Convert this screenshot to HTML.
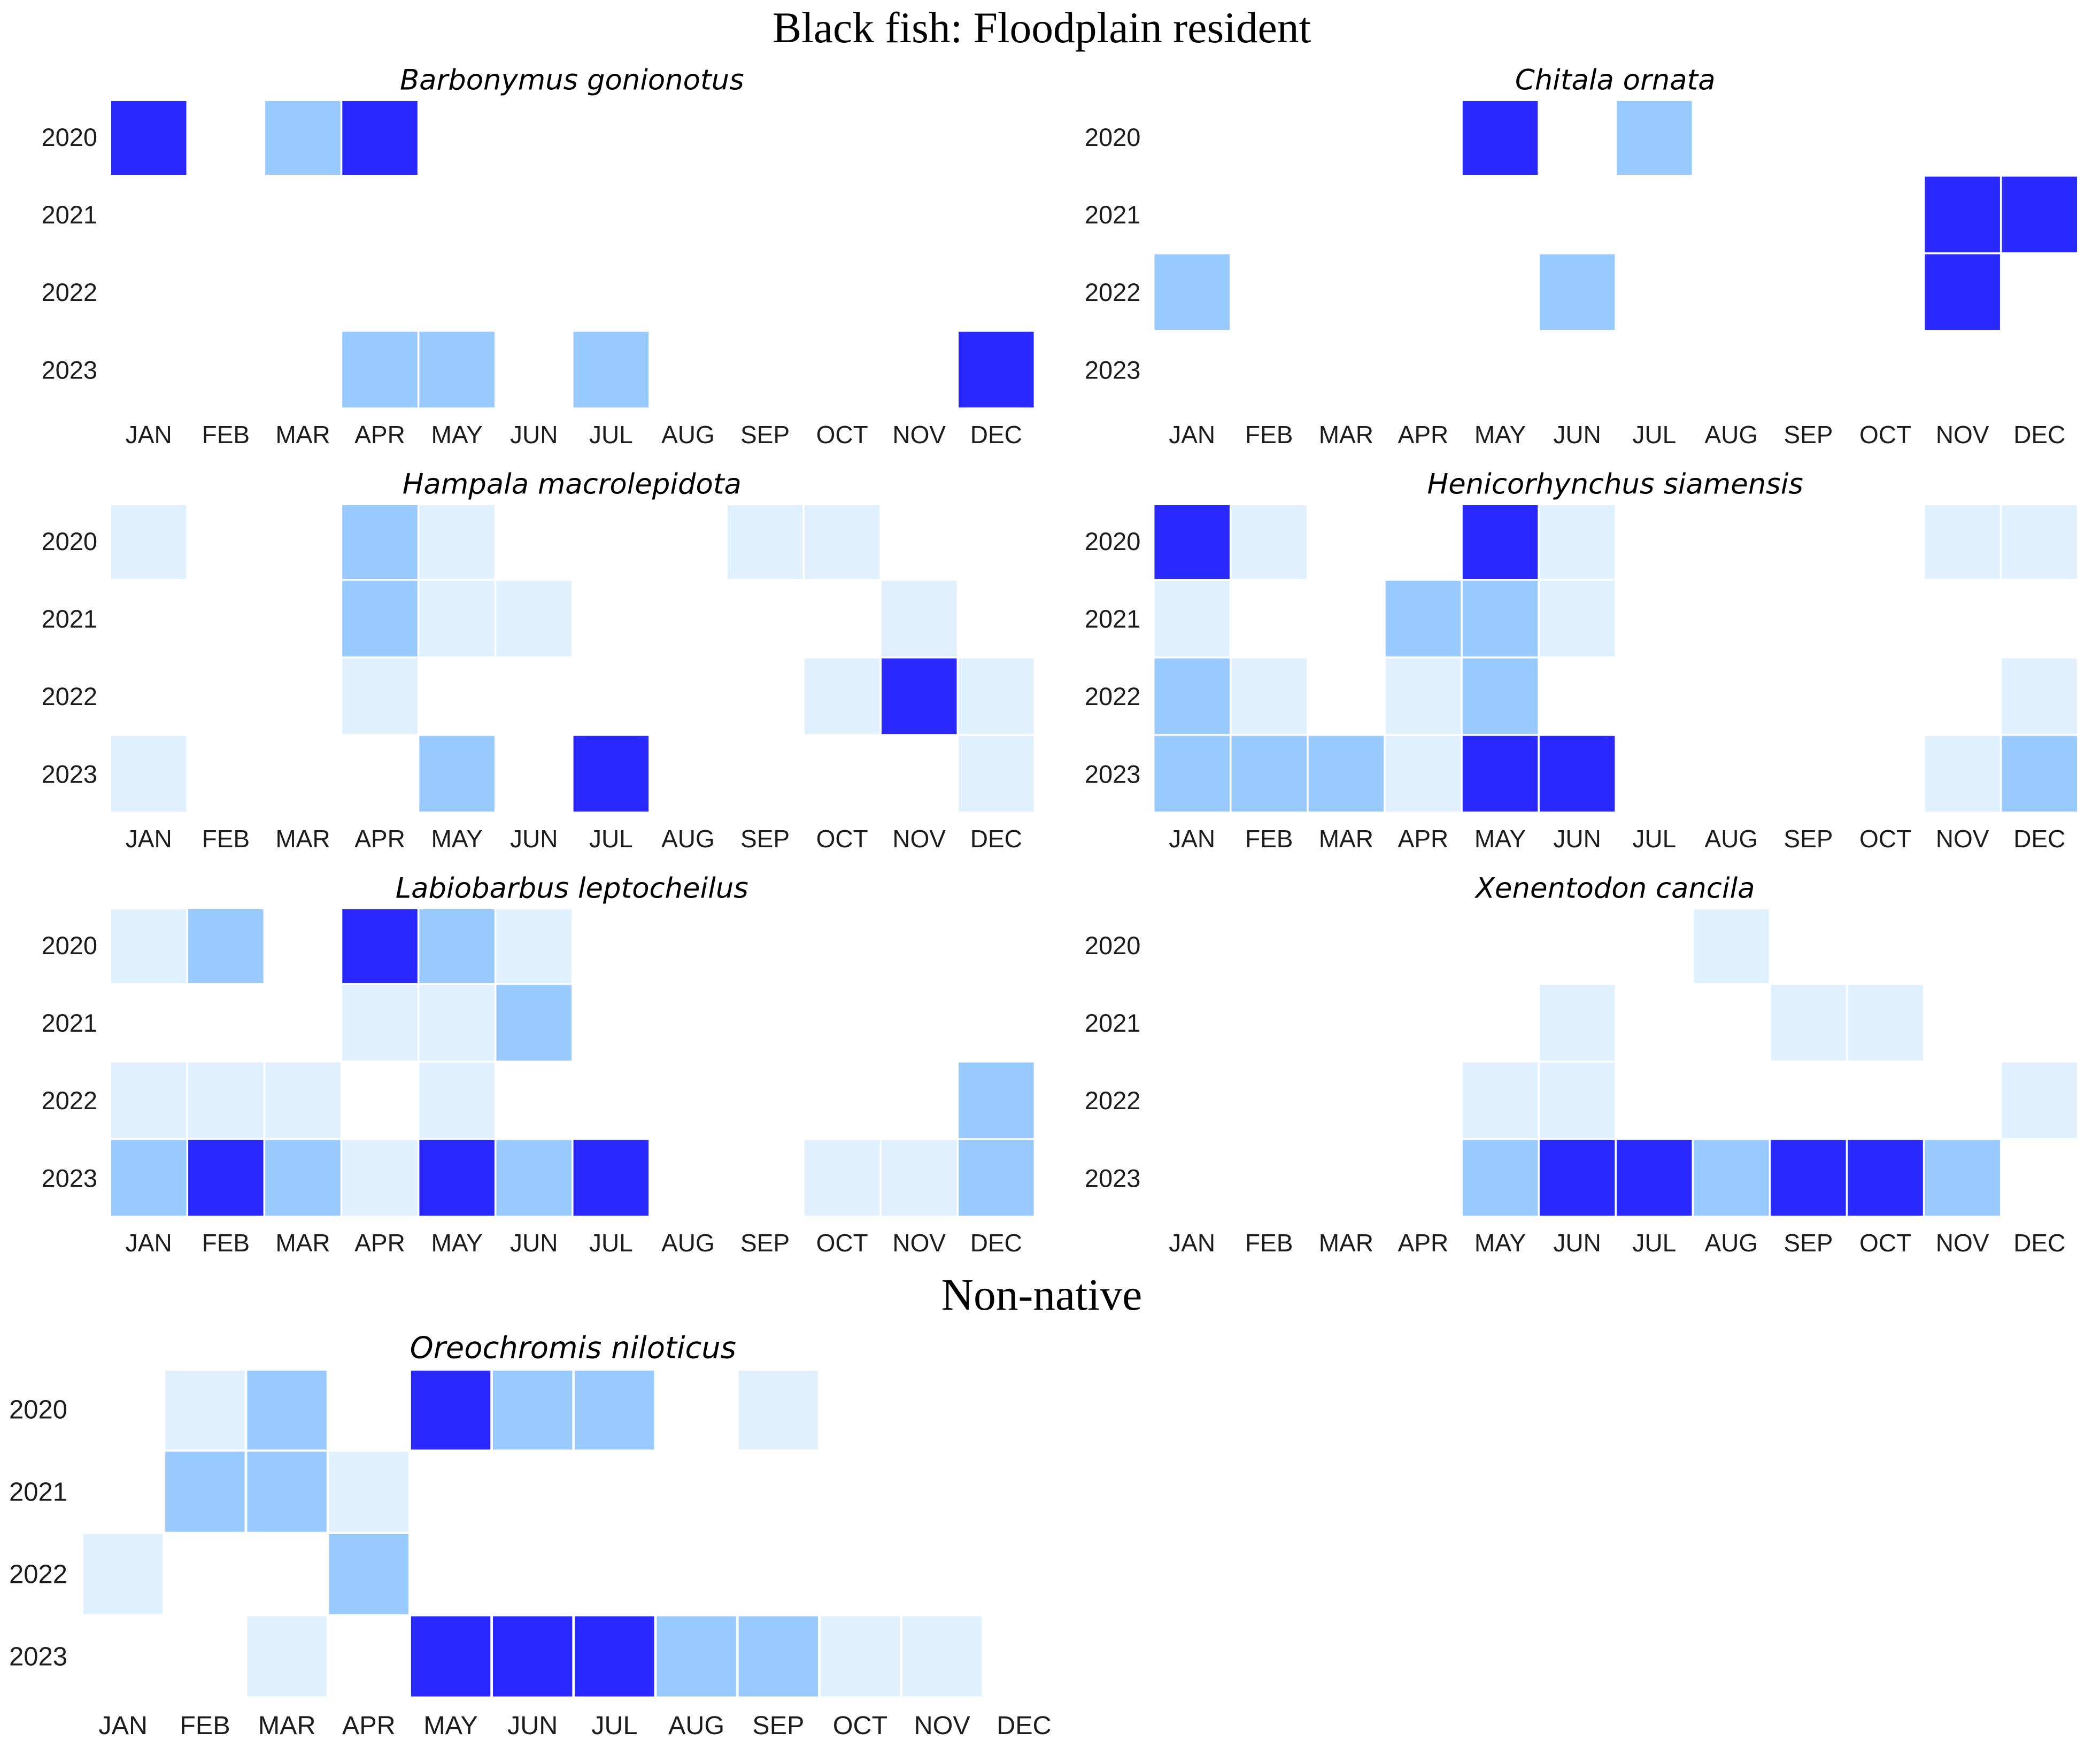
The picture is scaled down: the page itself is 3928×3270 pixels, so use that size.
<!DOCTYPE html>
<html lang="en">
<head>
<meta charset="utf-8">
<title>Black fish: Floodplain resident</title>
<style>
  html, body { margin: 0; padding: 0; background: #ffffff; }
  svg { display: block; }
  .main-title { font-family: "Liberation Serif", serif; fill: #000; text-anchor: middle; }
  .species-title { font-family: "DejaVu Sans", sans-serif; font-style: italic; fill: #000; text-anchor: middle; }
  .tick-label { font-family: "Liberation Sans", sans-serif; fill: #1c1c1c; }
</style>
</head>
<body>
<svg id="figure" xmlns="http://www.w3.org/2000/svg" width="3928" height="3270" viewBox="0 0 3928 3270">
  <rect x="0" y="0" width="3928" height="3270" fill="#ffffff"/>
  <text class="main-title" x="1948.5" y="79" font-size="81.5">Black fish: Floodplain resident</text>
  <text class="main-title" x="1948.5" y="2450" font-size="83.5">Non-native</text>
</svg>
<script>
// Shared categories
const monthLabels = ['JAN','FEB','MAR','APR','MAY','JUN','JUL','AUG','SEP','OCT','NOV','DEC'];
const yearLabels = ['2020','2021','2022','2023'];

// Species names
const speciesNames = [
  'Barbonymus gonionotus',
  'Chitala ornata',
  'Hampala macrolepidota',
  'Henicorhynchus siamensis',
  'Labiobarbus leptocheilus',
  'Xenentodon cancila',
  'Oreochromis niloticus'
];

// Abundance level per year (rows) and month (columns)
const barbonymusValues = [
  [3,0,2,3,0,0,0,0,0,0,0,0],
  [0,0,0,0,0,0,0,0,0,0,0,0],
  [0,0,0,0,0,0,0,0,0,0,0,0],
  [0,0,0,2,2,0,2,0,0,0,0,3]
];
const chitalaValues = [
  [0,0,0,0,3,0,2,0,0,0,0,0],
  [0,0,0,0,0,0,0,0,0,0,3,3],
  [2,0,0,0,0,2,0,0,0,0,3,0],
  [0,0,0,0,0,0,0,0,0,0,0,0]
];
const hampalaValues = [
  [1,0,0,2,1,0,0,0,1,1,0,0],
  [0,0,0,2,1,1,0,0,0,0,1,0],
  [0,0,0,1,0,0,0,0,0,1,3,1],
  [1,0,0,0,2,0,3,0,0,0,0,1]
];
const henicorhynchusValues = [
  [3,1,0,0,3,1,0,0,0,0,1,1],
  [1,0,0,2,2,1,0,0,0,0,0,0],
  [2,1,0,1,2,0,0,0,0,0,0,1],
  [2,2,2,1,3,3,0,0,0,0,1,2]
];
const labiobarbusValues = [
  [1,2,0,3,2,1,0,0,0,0,0,0],
  [0,0,0,1,1,2,0,0,0,0,0,0],
  [1,1,1,0,1,0,0,0,0,0,0,2],
  [2,3,2,1,3,2,3,0,0,1,1,2]
];
const xenentodonValues = [
  [0,0,0,0,0,0,0,1,0,0,0,0],
  [0,0,0,0,0,1,0,0,1,1,0,0],
  [0,0,0,0,1,1,0,0,0,0,0,1],
  [0,0,0,0,2,3,3,2,3,3,2,0]
];
const oreochromisValues = [
  [0,1,2,0,3,2,2,0,1,0,0,0],
  [0,2,2,1,0,0,0,0,0,0,0,0],
  [1,0,0,2,0,0,0,0,0,0,0,0],
  [0,0,1,0,3,3,3,2,2,1,1,0]
];
const speciesValues = [
  barbonymusValues, chitalaValues, hampalaValues, henicorhynchusValues,
  labiobarbusValues, xenentodonValues, oreochromisValues
];

// Colour scale (level -> fill)
function levelColor(v) {
  if (v >= 3) return '#2929ff';
  if (v >= 2) return '#98c9ff';
  if (v >= 1) return '#e0f0ff';
  return '#ffffff';
}

// Layout of the small multiples
const smallPanel = { pitchX: 144.1, pitchY: 145.1, cellW: 140.5, cellH: 141.6, clip: 3.6,
                     monthFont: 46, yearFont: 47, titleFont: 52.8,
                     monthDrop: 643.6, yearGap: 26, titleRise: 17.8, yearDrop: 87.6 };
const bigPanel   = { pitchX: 153.2, pitchY: 154, cellW: 148.4, cellH: 150, clip: 2.6,
                     monthFont: 48.5, yearFont: 49, titleFont: 56,
                     monthDrop: 682.4, yearGap: 30, titleRise: 20.9, yearDrop: 92 };

function panelOrigin(i) {
  if (i === 6) return { x: 156, y: 2561.6, g: bigPanel };
  return { x: 208 + (i % 2) * 1951.4, y: 185.4 + Math.floor(i / 2) * 756, g: smallPanel };
}

const SVG_NS = 'http://www.w3.org/2000/svg';
const figure = document.getElementById('figure');

function slug(s) { return s.toLowerCase().replace(/\s+/g, '-'); }

speciesNames.forEach(function (name, p) {
  const o = panelOrigin(p);
  const g = o.g;
  const xScale = function (c) { return o.x + c * g.pitchX; };
  const yScale = function (r) { return o.y + r * g.pitchY; };
  const top = o.y + g.clip;

  const panel = document.createElementNS(SVG_NS, 'g');
  
  
  figure.appendChild(panel);

  const title = document.createElementNS(SVG_NS, 'text');
  title.setAttribute('class', 'species-title');
  
  
  title.setAttribute('x', xScale(0) + (12 * g.pitchX - (g.pitchX - g.cellW)) / 2 - 1);
  title.setAttribute('y', o.y - g.titleRise);
  title.setAttribute('font-size', g.titleFont);
  title.textContent = name;
  panel.appendChild(title);

  speciesValues[p].forEach(function (row, r) {
    row.forEach(function (v, c) {
      const y0 = yScale(r);
      const yTop = Math.max(y0, top);
      const cell = document.createElementNS(SVG_NS, 'rect');
      
      
      cell.setAttribute('x', xScale(c));
      cell.setAttribute('y', yTop);
      cell.setAttribute('width', g.cellW);
      cell.setAttribute('height', y0 + g.cellH - yTop);
      cell.setAttribute('fill', levelColor(v));
      panel.appendChild(cell);
    });
  });

  yearLabels.forEach(function (label, r) {
    const t = document.createElementNS(SVG_NS, 'text');
    t.setAttribute('class', 'tick-label');
    
    
    t.setAttribute('x', o.x - g.yearGap);
    t.setAttribute('y', yScale(r) + g.yearDrop);
    t.setAttribute('text-anchor', 'end');
    t.setAttribute('font-size', g.yearFont);
    t.textContent = label;
    panel.appendChild(t);
  });

  monthLabels.forEach(function (label, c) {
    const t = document.createElementNS(SVG_NS, 'text');
    t.setAttribute('class', 'tick-label');
    
    
    t.setAttribute('x', xScale(c) + g.cellW / 2);
    t.setAttribute('y', o.y + g.monthDrop);
    t.setAttribute('text-anchor', 'middle');
    t.setAttribute('font-size', g.monthFont);
    t.textContent = label;
    panel.appendChild(t);
  });
});
</script>
</body>
</html>
